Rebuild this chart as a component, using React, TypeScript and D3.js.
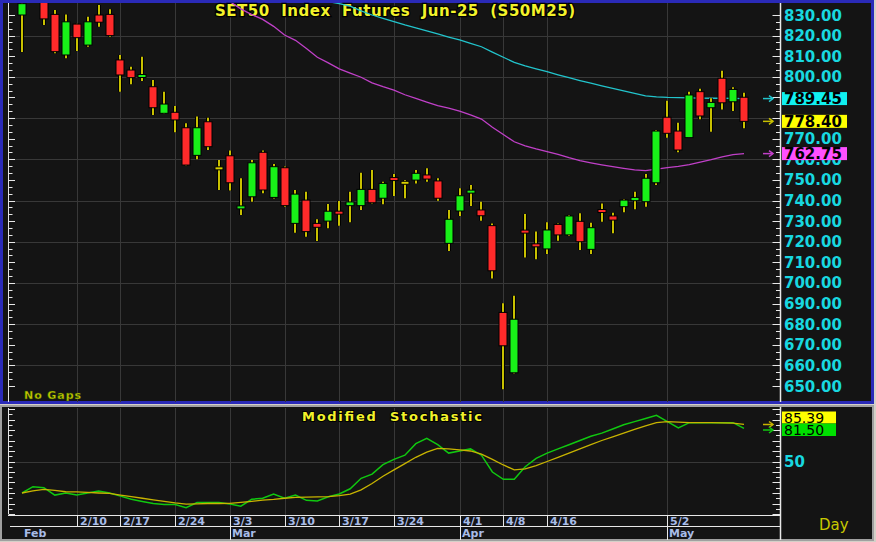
import React from "react";
import * as d3 from "d3";

// ---- price data (daily candles, index 0 = Feb 3) ----
const openP = [830.0, 841.0, 836.5, 830.3, 810.6, 825.6, 815.4, 830.0, 830.3, 808.2, 803.3, 800.2, 795.2, 782.3, 782.8, 775.3, 761.9, 778.2, 755.6, 761.7, 736.4, 741.8, 763.4, 741.5, 755.9, 728.9, 740.2, 728.9, 730.0, 734.8, 737.5, 737.5, 745.4, 741.1, 750.6, 748.6, 749.9, 752.4, 749.5, 719.2, 734.9, 744.1, 735.4, 727.8, 685.7, 656.4, 725.1, 718.9, 716.5, 728.4, 723.3, 729.9, 716.3, 735.0, 732.5, 737.0, 739.9, 739.4, 748.6, 780.4, 773.7, 770.5, 792.8, 785.0, 799.3, 787.9, 790.1];
const highP = [836.5, 844.0, 838.0, 832.4, 830.3, 825.8, 829.2, 834.9, 832.8, 810.6, 804.9, 809.8, 798.5, 792.8, 785.8, 777.5, 780.7, 780.2, 759.6, 764.2, 750.8, 759.6, 764.2, 757.7, 756.5, 745.1, 744.3, 730.9, 738.3, 739.8, 744.3, 753.5, 754.8, 749.1, 752.9, 749.9, 754.8, 755.6, 750.8, 735.4, 745.9, 747.5, 739.4, 728.9, 690.1, 693.8, 733.4, 724.9, 729.4, 728.9, 733.0, 733.8, 729.2, 738.6, 734.1, 740.6, 744.3, 752.9, 774.2, 788.4, 777.7, 792.8, 794.2, 789.6, 803.0, 794.9, 792.3];
const lowP = [812.0, 836.5, 825.1, 811.4, 809.0, 812.5, 814.6, 824.3, 819.5, 792.8, 796.4, 798.0, 781.5, 782.0, 773.1, 757.0, 760.0, 764.5, 745.1, 744.8, 733.0, 739.4, 743.5, 741.0, 737.0, 724.4, 722.4, 720.3, 726.5, 727.8, 729.4, 735.4, 738.5, 738.2, 742.2, 741.1, 748.3, 749.1, 739.9, 715.5, 732.5, 737.3, 730.2, 702.2, 648.4, 656.1, 712.4, 711.5, 714.0, 720.5, 722.8, 716.0, 714.0, 729.7, 724.1, 734.3, 735.7, 737.0, 747.5, 770.5, 763.4, 770.5, 779.4, 773.4, 784.2, 783.4, 775.0];
const closeP = [835.5, 839.0, 828.1, 812.2, 826.7, 819.0, 826.7, 826.5, 820.0, 800.9, 799.6, 800.6, 785.0, 786.8, 779.1, 757.2, 775.3, 766.1, 755.6, 748.6, 736.9, 758.3, 745.1, 756.4, 737.5, 743.1, 724.9, 727.0, 734.8, 733.4, 739.3, 745.4, 738.9, 748.3, 750.2, 748.6, 753.2, 750.4, 741.1, 730.9, 742.3, 744.5, 732.6, 705.9, 669.5, 682.4, 724.7, 717.6, 725.7, 723.3, 732.5, 720.0, 726.8, 734.8, 730.5, 740.2, 741.5, 750.8, 773.7, 772.6, 764.5, 791.2, 781.0, 787.6, 787.4, 793.9, 778.4];

// moving averages (cyan = long, magenta = short)
const maCyanStart = 28;
const maCyan = [836.5, 835.5, 834.3, 832.0, 830.0, 828.4, 826.8, 825.2, 823.8, 822.3, 820.8, 819.3, 817.9, 816.2, 814.6, 812.0, 809.5, 807.0, 805.3, 803.9, 802.5, 801.0, 799.6, 798.2, 796.9, 795.6, 794.4, 793.2, 792.0, 790.8, 790.3, 790.0, 789.9, 789.8, 789.7, 789.6, 789.6, 789.5, 789.45];
const maMagStart = 18;
const maMag = [839.0, 836.5, 833.0, 830.2, 827.9, 824.5, 820.3, 817.7, 813.7, 809.5, 806.8, 803.9, 801.8, 799.8, 797.1, 795.2, 793.5, 791.3, 789.5, 787.7, 786.0, 784.8, 783.4, 781.5, 779.5, 775.5, 772.0, 768.5, 766.5, 765.0, 763.7, 762.4, 760.8, 759.4, 758.3, 757.3, 756.4, 755.6, 754.9, 754.5, 755.2, 756.0, 756.6, 757.4, 758.6, 759.8, 761.2, 762.3, 762.75];

// modified stochastic
const stochK = [20, 26, 25, 18, 20, 18, 20, 22, 20, 17, 14, 12, 10, 9, 9, 6, 11, 11, 11, 9.5, 7.5, 14, 15, 19, 15, 18, 13, 12.5, 16.5, 19, 24, 34, 38, 47, 52, 56, 67, 72, 66, 58, 60, 62, 56, 40, 33, 33, 45, 53, 58, 62, 66, 70, 74, 77, 81, 85, 88, 91, 94, 88, 82, 87, 87, 87, 87, 87, 81.5];
const stochD = [20, 22, 23.5, 22.5, 21.2, 21, 20.5, 20, 19.7, 18, 16.5, 15, 13.5, 12, 10.5, 9.5, 9.7, 10, 10, 10.2, 11, 12, 13.3, 14, 15, 15.8, 16, 16.3, 16.5, 17.5, 19, 23, 29, 36, 42, 48, 54, 59, 62.5, 62, 61, 60, 57, 52, 46.7, 42, 43, 46, 50, 54, 58, 62, 66, 70, 73.5, 77, 80.5, 84, 87, 88, 87.5, 87, 87, 87, 86.8, 86.5, 85.39];

// right-axis labels (780 and 790 are hidden behind the value boxes in the original)
const priceTicks = [650, 660, 670, 680, 690, 700, 710, 720, 730, 740, 750, 760, 770, 800, 810, 820, 830];
const priceGrid = [660, 680, 700, 720, 740, 760, 780, 800, 820];
const weekIdx = [5, 9, 14, 19, 24, 29, 34, 40, 44, 48, 59];
const weekText = ["2/10", "2/17", "2/24", "3/3", "3/10", "3/17", "3/24", "4/1", "4/8", "4/16", "5/2"];
const monthIdx = [0, 19, 40, 59];
const monthText = ["Feb", "Mar", "Apr", "May"];

const lastClose = 778.4;
const lastCyan = 789.45;
const lastMag = 762.75;
const lastD = 85.39;
const lastK = 81.5;

const FONT = "'DejaVu Sans', Verdana, sans-serif";

export default function App() {
  const n = closeP.length;
  const x = d3.scaleLinear().domain([0, n - 1]).range([22, 744]);
  const y = d3.scaleLinear().domain([650, 830]).range([386, 15]);
  const ys = d3.scaleLinear().domain([0, 100]).range([514, 409]);

  const maLine = (arr: number[], start: number) =>
    d3
      .line<number>()
      .x((_, i) => x(start + i))
      .y((d) => y(d))(arr) || "";
  const stLine = (arr: number[]) =>
    d3
      .line<number>()
      .x((_, i) => x(i))
      .y((d) => ys(d))(arr) || "";

  const bw = 8;
  const leftTicks = d3.range(0, 55).map((k) => 650 + (k * 10) / 3);
  const stTicks = d3.range(0, 21).map((k) => k * 5);

  const arrow = (ax: number, ay: number, col: string, key: string) => (
    <g key={key} stroke={col} strokeWidth={1.5} fill="none">
      <line x1={ax} y1={ay} x2={ax + 10} y2={ay} />
      <polyline points={`${ax + 6},${ay - 3} ${ax + 10},${ay} ${ax + 6},${ay + 3}`} />
    </g>
  );

  const valueBox = (v: number, yy: number, fill: string, key: string, w = 65) => (
    <g key={key}>
      <rect x={782} y={yy - 6.5} width={w} height={13} fill={fill} />
      <text x={784} y={yy + 5.5} fontFamily={FONT} fontWeight="bold" fontSize={15} fill="#000">
        {v.toFixed(2)}
      </text>
    </g>
  );

  return (
    <svg
      width={876}
      height={542}
      style={{ position: "fixed", left: 0, top: 0, display: "block" }}
      xmlns="http://www.w3.org/2000/svg"
    >
      <defs>
        <clipPath id="topClip">
          <rect x={9} y={3} width={770} height={399} />
        </clipPath>
        <clipPath id="stClip">
          <rect x={9} y={408} width={770} height={106} />
        </clipPath>
      </defs>
      <rect x={0} y={0} width={876} height={542} fill="#d4d0c8" />
      {/* top panel */}
      <rect x={1.5} y={1.5} width={871} height={401} fill="#141414" stroke="#2a2ab8" strokeWidth={3} />
      {/* bottom panel */}
      <rect x={1} y={406} width={872} height={134} fill="#141414" stroke="#a0a0a0" strokeWidth={2} />

      {/* grid */}
      <g stroke="#383838" strokeWidth={1}>
        {priceGrid.map((v) => (
          <line key={"hg" + v} x1={9} x2={780} y1={Math.round(y(v)) + 0.5} y2={Math.round(y(v)) + 0.5} />
        ))}
        {weekIdx.map((i) => (
          <line key={"vg" + i} x1={Math.round(x(i)) + 0.5} x2={Math.round(x(i)) + 0.5} y1={3} y2={402} />
        ))}
        {weekIdx.map((i) => (
          <line key={"vs" + i} x1={Math.round(x(i)) + 0.5} x2={Math.round(x(i)) + 0.5} y1={408} y2={515} />
        ))}
        <line x1={9} x2={780} y1={Math.round(ys(50)) + 0.5} y2={Math.round(ys(50)) + 0.5} />
      </g>

      {/* title */}
      <text
        x={215}
        y={16}
        fontFamily={FONT}
        fontWeight="bold"
        fontSize={15}
        textLength={360}
        lengthAdjust="spacing"
        fill="#f2f22a"
        stroke="#000"
        strokeWidth={2.5}
        paintOrder="stroke"
        style={{ whiteSpace: "pre" }}
      >
        {"SET50  Index  Futures  Jun-25  (S50M25)"}
      </text>

      {/* MAs and candles */}
      <g clipPath="url(#topClip)">
        <path d={maLine(maMag, maMagStart)} fill="none" stroke="#c040c8" strokeWidth={1.3} />
        <path d={maLine(maCyan, maCyanStart)} fill="none" stroke="#22c4cc" strokeWidth={1.3} />
        {closeP.map((c, i) => {
          const o = openP[i];
          const cx = Math.round(x(i));
          const top = y(Math.max(o, c));
          const bot = y(Math.min(o, c));
          const flat = Math.abs(o - c) < 0.05;
          const col = flat ? "#d8d000" : c > o ? "#18f018" : "#ff2a2a";
          let h = bot - top;
          let yt = top;
          if (h < 3) {
            yt = (top + bot) / 2 - 1.5;
            h = 3;
          }
          return (
            <g key={"c" + i}>
              <line x1={cx} x2={cx} y1={y(highP[i])} y2={y(lowP[i])} stroke="#000" strokeWidth={4} />
              <line x1={cx} x2={cx} y1={y(highP[i])} y2={y(lowP[i])} stroke="#c8c000" strokeWidth={2} />
              <rect x={cx - bw / 2} y={yt} width={bw} height={h} fill={col} stroke="#000" strokeWidth={1} />
            </g>
          );
        })}
      </g>

      {/* axes top */}
      <g stroke="#e8e8e8" strokeWidth={1}>
        <line x1={8.5} x2={8.5} y1={3} y2={402} />
        {leftTicks.map((v, k) => (
          <line key={"lt" + k} x1={8.5} x2={k % 3 === 0 ? 15 : 12.5} y1={Math.round(y(v)) + 0.5} y2={Math.round(y(v)) + 0.5} />
        ))}
        <line x1={780.5} x2={780.5} y1={3} y2={402} strokeWidth={1.5} />
        {leftTicks.map((v, k) => (
          <line key={"rt" + k} x1={780.5} x2={k % 3 === 0 ? 772.5 : 776} y1={Math.round(y(v)) + 0.5} y2={Math.round(y(v)) + 0.5} />
        ))}
      </g>

      {/* right price labels */}
      {priceTicks.map((v) => (
        <text key={"pl" + v} x={784} y={y(v) + 5.5} fontFamily={FONT} fontWeight="bold" fontSize={15} fill="#18d8e0">
          {v.toFixed(2)}
        </text>
      ))}
      {arrow(763, y(lastCyan), "#22c4cc", "a1")}
      {arrow(763, y(lastClose), "#c8c000", "a2")}
      {arrow(763, y(lastMag), "#c040c8", "a3")}
      {valueBox(lastCyan, y(lastCyan), "#10f0f0", "b1")}
      {valueBox(lastClose, y(lastClose), "#ffff00", "b2")}
      {valueBox(lastMag, y(lastMag), "#ff50ff", "b3")}

      <text x={24} y={399} fontFamily={FONT} fontWeight="bold" fontSize={11} textLength={57} fill="#c8c800" stroke="#2a5a00" strokeWidth={0.4}>
        No Gaps
      </text>

      {/* stochastic */}
      <text
        x={302}
        y={421}
        fontFamily={FONT}
        fontWeight="bold"
        fontSize={13}
        textLength={180}
        lengthAdjust="spacing"
        fill="#f2f22a"
        stroke="#000"
        strokeWidth={2}
        paintOrder="stroke"
        style={{ whiteSpace: "pre" }}
      >
        {"Modified  Stochastic"}
      </text>
      <g clipPath="url(#stClip)">
        <path d={stLine(stochK)} fill="none" stroke="#10c810" strokeWidth={1.5} />
        <path d={stLine(stochD)} fill="none" stroke="#c8b400" strokeWidth={1.3} />
      </g>
      <g stroke="#e8e8e8" strokeWidth={1}>
        <line x1={8.5} x2={8.5} y1={408} y2={514} />
        {stTicks.map((v) => (
          <line key={"slt" + v} x1={8.5} x2={v % 10 === 0 ? 15 : 12.5} y1={Math.round(ys(v)) + 0.5} y2={Math.round(ys(v)) + 0.5} />
        ))}
        <line x1={780.5} x2={780.5} y1={407} y2={540} strokeWidth={1.5} />
        {stTicks.map((v) => (
          <line key={"srt" + v} x1={780.5} x2={v % 10 === 0 ? 772.5 : 776} y1={Math.round(ys(v)) + 0.5} y2={Math.round(ys(v)) + 0.5} />
        ))}
        <line x1={8} x2={780} y1={515.5} y2={515.5} />
        <line x1={10} x2={780} y1={526.5} y2={526.5} />
        {weekIdx.map((i) => (
          <line key={"ws" + i} x1={Math.round(x(i)) + 0.5} x2={Math.round(x(i)) + 0.5} y1={515} y2={527} />
        ))}
        {monthIdx.slice(1).map((i) => (
          <line key={"ms" + i} x1={Math.round(x(i)) + 0.5} x2={Math.round(x(i)) + 0.5} y1={526} y2={540} />
        ))}
      </g>
      {weekText.map((t, k) => (
        <text key={"wt" + k} x={Math.round(x(weekIdx[k])) + 3} y={525} fontFamily={FONT} fontWeight="bold" fontSize={11} fill="#a8bce8">
          {t}
        </text>
      ))}
      {monthText.map((t, k) => (
        <text key={"mt" + k} x={Math.round(x(monthIdx[k])) + 2} y={537} fontFamily={FONT} fontWeight="bold" fontSize={11} fill="#a8bce8">
          {t}
        </text>
      ))}
      <text x={784} y={ys(50) + 5.5} fontFamily={FONT} fontWeight="bold" fontSize={15} fill="#18d8e0">
        50
      </text>
      {arrow(763, 424.5, "#c8b400", "sa1")}
      {arrow(763, 430, "#10c810", "sa2")}
      <g>
        <rect x={782} y={411.5} width={54} height={12} fill="#ffff00" />
        <text x={784} y={422.5} fontFamily={FONT} fontSize={14} fill="#000">
          {lastD.toFixed(2)}
        </text>
        <rect x={782} y={423.5} width={54} height={12.5} fill="#00e000" />
        <text x={784} y={435} fontFamily={FONT} fontSize={14} fill="#000">
          {lastK.toFixed(2)}
        </text>
      </g>
      <text x={819} y={530} fontFamily={FONT} fontSize={15} fill="#c8c800">
        Day
      </text>
    </svg>
  );
}
